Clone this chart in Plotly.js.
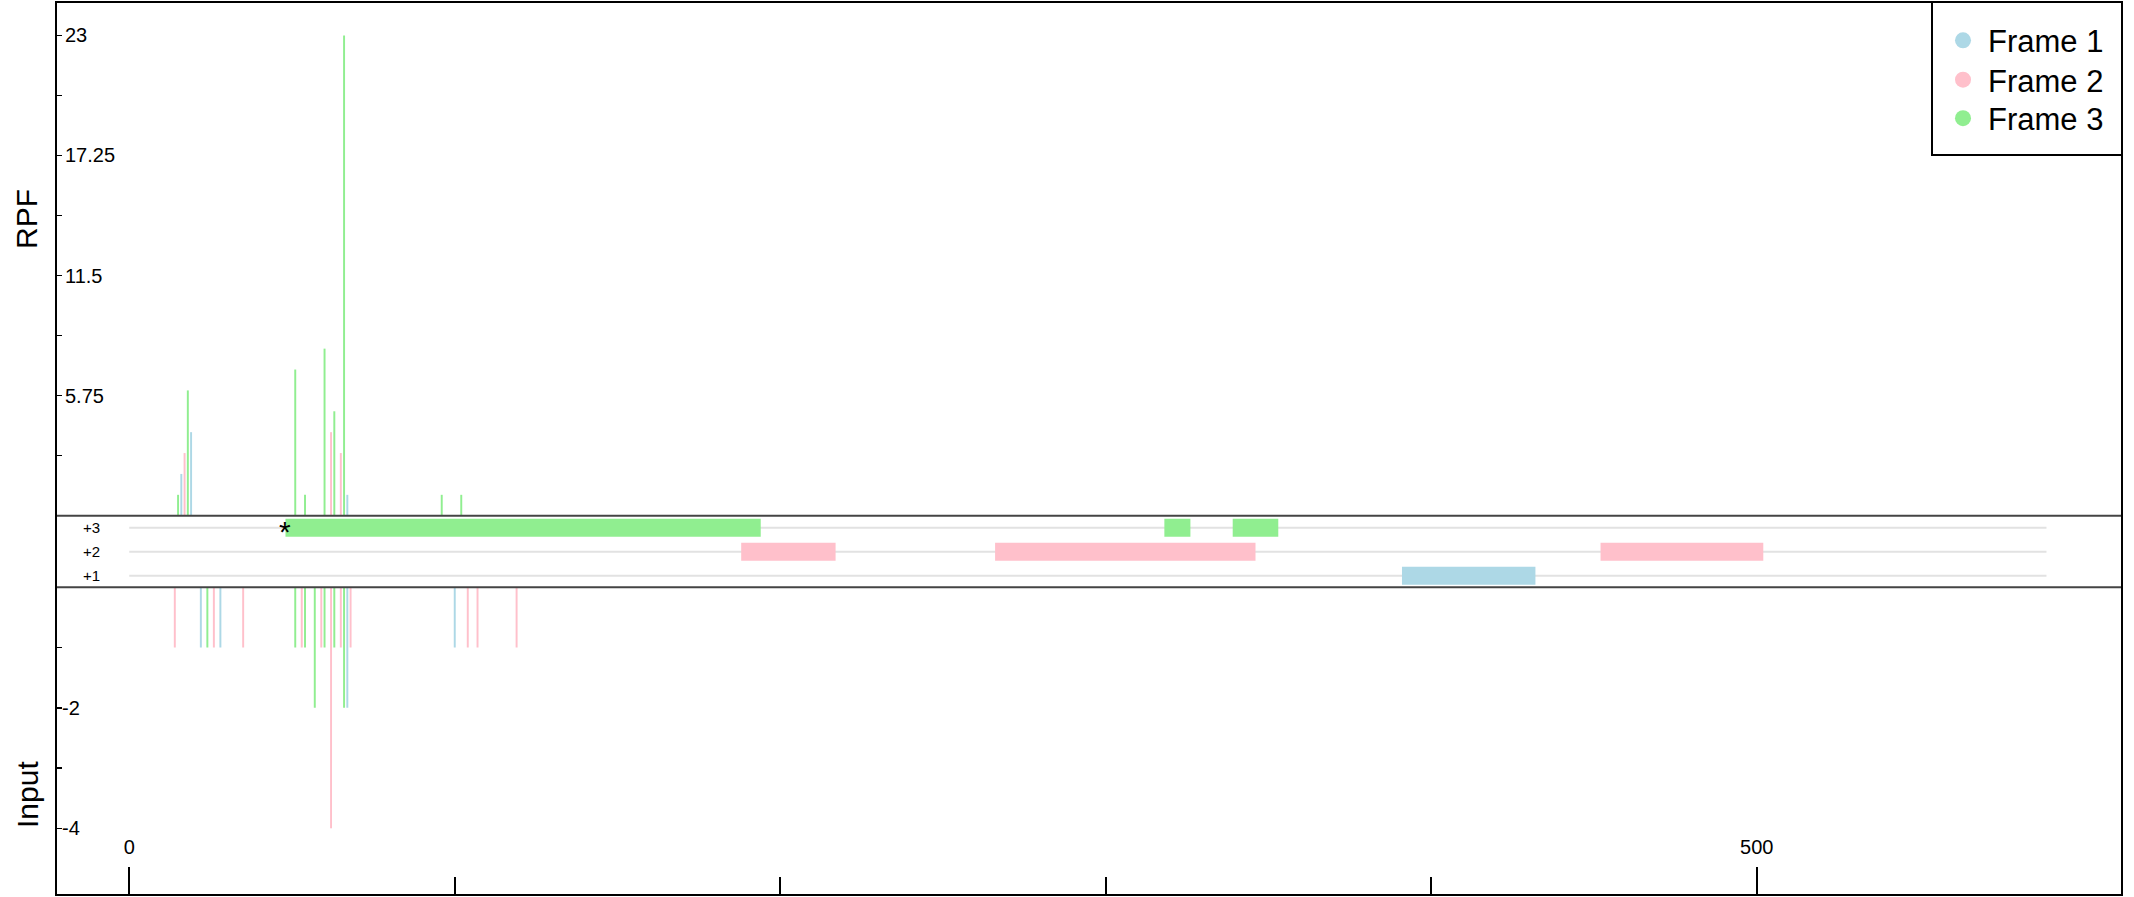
<!DOCTYPE html>
<html>
<head>
<meta charset="utf-8">
<script src="https://cdn.plot.ly/plotly-3.0.1.min.js"></script>
<style>html,body{margin:0;padding:0;background:#fff;}#chart{width:2134px;height:897px;}</style>
</head>
<body>
<div id="chart"></div>
<script>
// ---------------- data ----------------
const frameNames = ['Frame 1', 'Frame 2', 'Frame 3'];
const frameColors = ['lightblue', 'pink', 'lightgreen'];

// RPF counts per frame (position, value)
const rpfF1Pos = [16, 19, 67];
const rpfF1Val = [2, 4, 1];
const rpfF2Pos = [17, 62, 65];
const rpfF2Val = [3, 4, 3];
const rpfF3Pos = [15, 18, 51, 54, 60, 63, 66, 96, 102];
const rpfF3Val = [1, 6, 7, 1, 8, 5, 23, 1, 1];

// Input counts per frame (plotted downward)
const inF1Pos = [22, 28, 67, 100];
const inF1Val = [-1, -1, -2, -1];
const inF2Pos = [14, 26, 35, 53, 59, 62, 65, 68, 104, 107, 119];
const inF2Val = [-1, -1, -1, -1, -1, -4, -1, -1, -1, -1, -1];
const inF3Pos = [24, 51, 54, 57, 60, 63, 66];
const inF3Val = [-1, -1, -1, -2, -1, -1, -2];

// ORFs
const orfFrame = [3, 2, 2, 3, 3, 1, 2];
const orfStart = [48, 188, 266, 318, 339, 391, 452];
const orfEnd   = [194, 217, 346, 326, 353, 432, 502];
const geneLength = 589;
const rowValues = [1, 2, 3];
const rowLabels = ['+1', '+2', '+3'];

// ticks
const xTickVals = [0, 500];
const xTickText = ['0', '500'];
const xMinorVals = [100, 200, 300, 400];
const rpfTickVals = [2.875, 5.75, 8.625, 11.5, 14.375, 17.25, 20.125, 23];
const rpfTickText = ['', '5.75', '', '11.5', '', '17.25', '', '23'];
const inTickVals = [-1, -2, -3, -4];
const inTickText = ['', '-2', '', '-4'];

// ---------------- drawing ----------------
const FONT = 'Liberation Sans, Arial, Helvetica, sans-serif';
const barW = 0.6;

function vbar(pos, val, color, yaxis) {
  return {type: 'bar', x: pos, y: val, width: barW, marker: {color: color, line: {width: 0}},
          xaxis: 'x', yaxis: yaxis, showlegend: false, hoverinfo: 'x+y'};
}

const traces = [
  vbar(rpfF1Pos, rpfF1Val, frameColors[0], 'y'),
  vbar(rpfF2Pos, rpfF2Val, frameColors[1], 'y'),
  vbar(rpfF3Pos, rpfF3Val, frameColors[2], 'y'),
  vbar(inF1Pos, inF1Val, frameColors[0], 'y3'),
  vbar(inF2Pos, inF2Val, frameColors[1], 'y3'),
  vbar(inF3Pos, inF3Val, frameColors[2], 'y3'),
  {
    type: 'bar', orientation: 'h', xaxis: 'x', yaxis: 'y2',
    y: orfFrame, base: orfStart, x: orfEnd.map((e, i) => e - orfStart[i]),
    width: 0.75, marker: {color: orfFrame.map(f => frameColors[f - 1]), line: {width: 0}},
    showlegend: false, hoverinfo: 'none'
  }
];
const legendIds = ['legend', 'legend2', 'legend3'];
frameNames.forEach((n, i) => traces.push({
  type: 'scatter', mode: 'markers', x: [null], y: [null], name: n, legend: legendIds[i],
  marker: {symbol: 'circle', size: 16, color: frameColors[i]}, xaxis: 'x', yaxis: 'y'
}));

const plotTop = 2, plotBot = 895, plotH = plotBot - plotTop;
const py = px => (plotBot - px) / plotH;
const pxX = px => (px - 56) / 2066;
const dRpf = py(515.7), dIn = py(587.3);

const shapes = rowValues.map(r => ({
  type: 'line', xref: 'x', yref: 'y2', x0: 0, x1: geneLength, y0: r, y1: r,
  line: {color: '#e2e2e2', width: 2}, layer: 'below'
}));
shapes.push({type: 'line', xref: 'paper', yref: 'paper', x0: 0, x1: 1, y0: dRpf, y1: dRpf, line: {color: '#444', width: 2}});
shapes.push({type: 'line', xref: 'paper', yref: 'paper', x0: 0, x1: 1, y0: dIn, y1: dIn, line: {color: '#444', width: 2}});
shapes.push({type: 'rect', xref: 'paper', yref: 'paper', x0: 0, x1: 1, y0: 0, y1: 1, line: {color: '#000', width: 2}});
shapes.push({type: 'rect', xref: 'paper', yref: 'paper', x0: pxX(1932), x1: 1, y0: py(155), y1: 1,
             line: {color: '#000', width: 2}, fillcolor: 'white'});

const annotations = rowValues.map((r, i) => ({
  xref: 'paper', yref: 'y2', x: pxX(91), y: r, text: rowLabels[i], showarrow: false,
  xanchor: 'center', yanchor: 'middle', font: {family: FONT, size: 15, color: '#000'}
}));
annotations.push({xref: 'x', yref: 'y2', x: orfStart[0], y: orfFrame[0], text: '*', showarrow: false,
  xanchor: 'center', yanchor: 'middle', yshift: -4, font: {family: FONT, size: 30, color: '#000'}});
annotations.push({xref: 'paper', yref: 'paper', x: pxX(27), y: py(219), text: 'RPF', textangle: -90,
  showarrow: false, xanchor: 'center', yanchor: 'middle', font: {family: FONT, size: 30, color: '#000'}});
annotations.push({xref: 'paper', yref: 'paper', x: pxX(27), y: py(795), text: 'Input', textangle: -90,
  showarrow: false, xanchor: 'center', yanchor: 'middle', font: {family: FONT, size: 30, color: '#000'}});

const yCommon = {
  anchor: 'x', ticks: 'inside', ticklen: 6, tickwidth: 1.5, tickcolor: '#000',
  ticklabelposition: 'inside', tickfont: {family: FONT, size: 20, color: '#000'},
  showgrid: false, zeroline: false, showline: false, tickmode: 'array', fixedrange: true
};

const legendCenters = [40.7, 80, 118.5];
const legendBase = {x: pxX(1938), xanchor: 'left', yanchor: 'middle', bgcolor: 'rgba(0,0,0,0)',
  borderwidth: 0, font: {family: FONT, size: 31, color: '#000'}, itemwidth: 40};

const layout = {
  width: 2134, height: 897,
  margin: {l: 56, r: 12, t: plotTop, b: 897 - plotBot, pad: 0},
  paper_bgcolor: '#fff', plot_bgcolor: '#fff',
  font: {family: FONT, color: '#000'},
  barmode: 'overlay',
  showlegend: true,
  xaxis: {
    anchor: 'y3', range: [-22.5, 612.2], showgrid: false, zeroline: false, showline: false,
    ticks: 'inside', ticklen: 28, tickwidth: 2, tickcolor: '#000', ticklabelposition: 'inside',
    ticklabelstandoff: 10,
    tickmode: 'array', tickvals: xTickVals, ticktext: xTickText,
    tickfont: {family: FONT, size: 20, color: '#000'},
    minor: {tickmode: 'array', tickvals: xMinorVals, ticks: 'inside', ticklen: 18, tickwidth: 2, tickcolor: '#000', showgrid: false},
    fixedrange: true
  },
  yaxis: Object.assign({}, yCommon, {domain: [dRpf, 1], range: [0, 24.6], tickvals: rpfTickVals, ticktext: rpfTickText, ticklabelstandoff: 4}),
  yaxis2: Object.assign({}, yCommon, {domain: [dIn, dRpf], range: [0.517, 3.5], ticks: '', showticklabels: false}),
  yaxis3: Object.assign({}, yCommon, {domain: [0, dIn], range: [-5.107, 0], tickvals: inTickVals, ticktext: inTickText, ticklabelstandoff: 1}),
  shapes: shapes,
  annotations: annotations
};
legendIds.forEach((id, i) => {
  layout[id] = Object.assign({}, legendBase, {y: py(legendCenters[i])});
});

Plotly.newPlot('chart', traces, layout, {displayModeBar: false, staticPlot: true});
</script>
</body>
</html>
